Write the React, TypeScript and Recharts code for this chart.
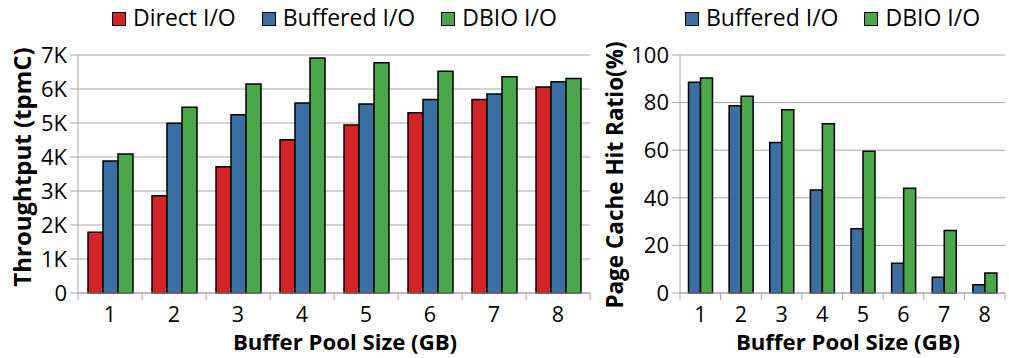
import { BarChart, Bar, XAxis, YAxis, CartesianGrid } from "recharts"

const poolSizes = ["1", "2", "3", "4", "5", "6", "7", "8"]
const directIO = [1790, 2860, 3710, 4510, 4940, 5300, 5690, 6060]
const bufferedIO = [3880, 4990, 5240, 5590, 5560, 5690, 5850, 6210]
const dbioIO = [4090, 5460, 6150, 6910, 6770, 6520, 6360, 6310]
const bufferedHit = [88.6, 78.7, 63.2, 43.3, 27.0, 12.5, 6.6, 3.5]
const dbioHit = [90.3, 82.7, 77.0, 71.1, 59.6, 44.0, 26.3, 8.4]
const tputTicks = [0, 1000, 2000, 3000, 4000, 5000, 6000, 7000]
const hitTicks = [0, 20, 40, 60, 80, 100]

const RED = "#d42329"
const BLUE = "#3b6fa3"
const GREEN = "#4ba84a"
const GRID = "#a6a6a6"
const FONT = "'Open Sans', sans-serif"

const tputData = poolSizes.map((size, i) => ({
  size,
  direct: directIO[i],
  buffered: bufferedIO[i],
  dbio: dbioIO[i],
}))

const hitData = poolSizes.map((size, i) => ({
  size,
  buffered: bufferedHit[i],
  dbio: dbioHit[i],
}))

// excel style: tick marks sit between categories, not under them
function BoundaryTick(props: any) {
  const { x, y, payload, index, band } = props
  return (
    <g>
      <line x1={x - band / 2} y1={y} x2={x - band / 2} y2={y + 7} stroke={GRID} />
      {index === poolSizes.length - 1 && (
        <line x1={x + band / 2} y1={y} x2={x + band / 2} y2={y + 7} stroke={GRID} />
      )}
      <text x={x} y={y + 29} textAnchor="middle" fontSize={21.5} fill="#000">
        {payload.value}
      </text>
    </g>
  )
}

function LegendRow({ items, left }: { items: { name: string; color: string }[]; left: number }) {
  return (
    <div
      style={{
        position: "absolute",
        top: 4,
        left,
        display: "flex",
        alignItems: "center",
        fontSize: 23,
        color: "#000",
        whiteSpace: "nowrap",
      }}
    >
      {items.map((it) => (
        <div key={it.name} style={{ display: "flex", alignItems: "center", marginRight: 26 }}>
          <span
            style={{
              width: 12,
              height: 12,
              marginTop: 3,
              background: it.color,
              border: "1.5px solid #000",
              marginRight: 7,
            }}
          />
          <span style={{ lineHeight: "26px" }}>{it.name}</span>
        </div>
      ))}
    </div>
  )
}

const xTitle = (cx: number) => () => (
  <text x={cx} y={350} textAnchor="middle" fontSize={22.2} fontWeight="bold" fill="#000">
    Buffer Pool Size (GB)
  </text>
)

const yTitle = (text: string, cx: number, cy: number, size: number) => () => (
  <text
    x={cx}
    y={cy}
    transform={`rotate(-90 ${cx} ${cy})`}
    textAnchor="middle"
    dominantBaseline="central"
    fontSize={size}
    fontWeight="bold"
    fill="#000"
  >
    {text}
  </text>
)

const barStyle = { stroke: "#000", strokeWidth: 1.5, isAnimationActive: false }

export default function App() {
  return (
    <div style={{ position: "absolute", left: 0, top: 0, width: 1009, height: 358, background: "#fff", fontFamily: FONT }}>
      <LegendRow
        left={112}
        items={[
          { name: "Direct I/O", color: RED },
          { name: "Buffered I/O", color: BLUE },
          { name: "DBIO I/O", color: GREEN },
        ]}
      />
      <LegendRow
        left={685}
        items={[
          { name: "Buffered I/O", color: BLUE },
          { name: "DBIO I/O", color: GREEN },
        ]}
      />
      <div style={{ position: "absolute", left: 0, top: 0 }}>
        <BarChart
          width={600}
          height={358}
          data={tputData}
          margin={{ top: 55, right: 10, left: 0, bottom: 35 }}
          barCategoryGap={10}
          barGap={0}
        >
          <CartesianGrid vertical={false} stroke={GRID} />
          <XAxis
            dataKey="size"
            stroke={GRID}
            height={30}
            tickLine={false}
            tickSize={0}
            tickMargin={0}
            interval={0}
            tick={<BoundaryTick band={512 / 8} />}
            label={{ content: xTitle(345) }}
          />
          <YAxis
            width={78}
            domain={[0, 7000]}
            ticks={tputTicks}
            interval={0}
            stroke={GRID}
            tickSize={8}
            tickMargin={3}
            tick={{ fill: "#000", fontSize: 22 }}
            tickFormatter={(v: number) => (v === 0 ? "0" : `${v / 1000}K`)}
            label={{ content: yTitle("Throughtput (tpmC)", 21, 167, 24) }}
          />
          <Bar dataKey="direct" name="Direct I/O" fill={RED} {...barStyle} />
          <Bar dataKey="buffered" name="Buffered I/O" fill={BLUE} {...barStyle} />
          <Bar dataKey="dbio" name="DBIO I/O" fill={GREEN} {...barStyle} />
        </BarChart>
      </div>
      <div style={{ position: "absolute", left: 600, top: 0 }}>
        <BarChart
          width={409}
          height={358}
          data={hitData}
          margin={{ top: 55, right: 4, left: 0, bottom: 35 }}
          barCategoryGap={8.5}
          barGap={0}
        >
          <CartesianGrid vertical={false} stroke={GRID} />
          <XAxis
            dataKey="size"
            stroke={GRID}
            height={30}
            tickLine={false}
            tickSize={0}
            tickMargin={0}
            interval={0}
            tick={<BoundaryTick band={325 / 8} />}
            label={{ content: xTitle(248) }}
          />
          <YAxis
            width={80}
            domain={[0, 100]}
            ticks={hitTicks}
            interval={0}
            stroke={GRID}
            tickSize={8}
            tickMargin={3}
            tick={{ fill: "#000", fontSize: 22 }}
            label={{ content: yTitle("Page Cache Hit Ratio(%)", 14, 175, 22.5) }}
          />
          <Bar dataKey="buffered" name="Buffered I/O" fill={BLUE} {...barStyle} />
          <Bar dataKey="dbio" name="DBIO I/O" fill={GREEN} {...barStyle} />
        </BarChart>
      </div>
    </div>
  )
}
